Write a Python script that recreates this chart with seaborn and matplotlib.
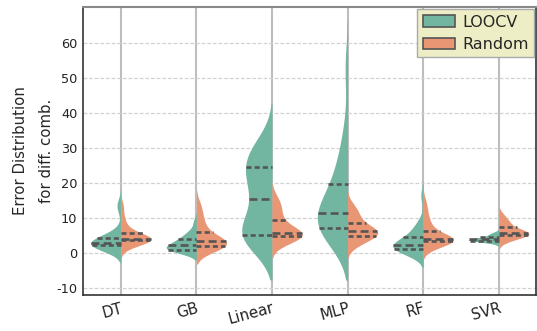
import numpy as np
import pandas as pd
import matplotlib
matplotlib.use("Agg")
import matplotlib.pyplot as plt
from matplotlib.patches import Patch
import seaborn as sns

# Models on the x axis and the two validation schemes (hue)
models = ["DT", "GB", "Linear", "MLP", "RF", "SVR"]
methods = ["LOOCV", "Random"]

# Error values per model / validation scheme
dt_loocv = [1.2, 1.5, 1.7, 2.0, 2.1, 2.3, 2.5, 2.6, 2.8, 2.85, 2.95, 3.2, 3.6, 4.0, 4.4, 4.8, 5.3, 6.3, 12.8, 14.3]
dt_random = [1.8, 2.6, 3.1, 3.4, 3.6, 3.75, 3.9, 4.0, 4.1, 4.15, 4.25, 4.4, 4.7, 5.1, 5.5, 6.3, 7.0, 8.5, 10.5, 13.5]
gb_loocv = [0.6, 0.7, 0.8, 0.9, 0.95, 1.05, 1.3, 1.7, 2.0, 2.3, 2.5, 2.8, 3.1, 3.5, 4.0, 4.4, 5.0, 5.8, 6.5, 9.0]
gb_random = [1.0, 1.2, 1.6, 1.9, 2.0, 2.3, 2.7, 3.0, 3.2, 3.4, 3.6, 3.9, 4.3, 5.0, 5.8, 7.4, 8.5, 10.0, 12.0, 14.0]
linear_loocv = [3.5, 4.0, 4.4, 4.8, 5.0, 5.3, 6.5, 8.5, 11.5, 14.5, 16.8, 19.0, 21.0, 23.0, 24.5, 25.0, 27.0, 28.5, 30.0, 32.0]
linear_random = [3.0, 3.5, 4.0, 4.4, 4.8, 5.0, 5.3, 5.5, 5.7, 5.8, 6.0, 6.5, 7.3, 8.2, 9.0, 10.6, 12.0, 13.0, 14.5, 16.0]
mlp_loocv = [5.5, 5.8, 6.2, 6.5, 6.8, 7.5, 8.5, 9.5, 10.5, 11.0, 12.2, 13.5, 15.0, 17.0, 19.0, 22.0, 25.0, 28.0, 35.0, 53.0]
mlp_random = [2.2, 3.0, 3.7, 4.3, 4.8, 4.95, 5.5, 5.8, 6.1, 6.3, 6.5, 6.8, 7.3, 7.8, 8.5, 9.7, 10.5, 11.5, 12.5, 14.0]
rf_loocv = [0.3, 0.6, 0.9, 1.1, 1.25, 1.3, 1.7, 2.0, 2.2, 2.35, 2.45, 2.8, 3.3, 3.9, 4.5, 5.7, 6.5, 7.5, 9.0, 16.5]
rf_random = [2.2, 2.6, 2.9, 3.3, 3.55, 3.65, 3.75, 3.85, 3.95, 3.98, 4.02, 4.3, 4.8, 5.4, 6.0, 7.6, 8.5, 10.0, 12.0, 14.5]
svr_loocv = [2.9, 3.2, 3.35, 3.5, 3.58, 3.65, 3.75, 3.85, 3.92, 3.98, 4.02, 4.1, 4.2, 4.35, 4.55, 4.75, 5.0, 5.3, 5.6, 6.0]
svr_random = [3.4, 4.0, 4.5, 4.8, 5.0, 5.2, 5.4, 5.6, 5.75, 5.85, 5.95, 6.2, 6.5, 6.9, 7.3, 8.1, 8.6, 9.2, 10.0, 11.2]

y_ticks = [-10, 0, 10, 20, 30, 40, 50, 60]

groups = {
    ("DT", "LOOCV"): dt_loocv, ("DT", "Random"): dt_random,
    ("GB", "LOOCV"): gb_loocv, ("GB", "Random"): gb_random,
    ("Linear", "LOOCV"): linear_loocv, ("Linear", "Random"): linear_random,
    ("MLP", "LOOCV"): mlp_loocv, ("MLP", "Random"): mlp_random,
    ("RF", "LOOCV"): rf_loocv, ("RF", "Random"): rf_random,
    ("SVR", "LOOCV"): svr_loocv, ("SVR", "Random"): svr_random,
}
rows = [(m, h, v) for (m, h), vals in groups.items() for v in vals]
df = pd.DataFrame(rows, columns=["model", "method", "error"])

sns.set_style("white")
plt.rcParams["font.family"] = ["DejaVu Sans"]

fig = plt.figure(figsize=(5.37, 3.31), dpi=100)
ax = fig.add_axes([0.1546, 0.1088, 0.8444, 0.871])

palette = [sns.desaturate(c, 0.75) for c in sns.color_palette("Set2", 2)]

sns.violinplot(
    data=df, x="model", y="error", hue="method",
    order=models, hue_order=methods, palette=palette, saturation=1,
    split=True, inner="quart", density_norm="width", cut=2,
    linewidth=0, inner_kws=dict(color="#555555", linewidth=1.9),
    legend=False, ax=ax,
)

# quartile lines come in (q1, median, q3) triples: short dashes, long for the median
for i, line in enumerate(ax.lines):
    if i % 3 == 1:
        line.set_dashes([3.0, 1.6])
    else:
        line.set_dashes([1.9, 1.2])

ax.set_axisbelow(True)
ax.yaxis.grid(True, linestyle=(0, (3, 1.5)), color="#d2d2d2", linewidth=0.9)
ax.xaxis.grid(True, linestyle="-", color="#bdbdbd", linewidth=1.5)

ax.set_xlim(-0.5, 5.5)
ax.set_ylim(-11.9, 70.5)
ax.set_yticks(y_ticks)
ax.set_yticklabels([str(t) for t in y_ticks], fontsize=9.3)
ax.set_xticks(range(len(models)))
ax.set_xticklabels(models, rotation=15, ha="right", va="top",
                   rotation_mode="anchor", fontsize=10.8)
ax.tick_params(axis="both", length=0, pad=4, colors="#222222")
ax.set_xlabel("")
ax.set_ylabel("Error Distribution\nfor diff. comb.", fontsize=10.7,
              linespacing=1.9, labelpad=2)

for side in ["left", "bottom", "right"]:
    ax.spines[side].set_color("#333333")
    ax.spines[side].set_linewidth(1.2)
ax.spines["top"].set_color("#888888")
ax.spines["top"].set_linewidth(1.5)

handles = [Patch(facecolor=c, edgecolor="#555555", linewidth=1.2, label=m)
           for c, m in zip(palette, methods)]
leg = ax.legend(handles=handles, loc="upper right", bbox_to_anchor=(1.0, 1.0),
                borderaxespad=0.15, fontsize=11.5, labelspacing=0.45,
                handlelength=2.0, handleheight=0.7, borderpad=0.35,
                handletextpad=0.45, frameon=True, fancybox=False)
leg.get_frame().set_facecolor("#eeeec6")
leg.get_frame().set_edgecolor("#aaaaaa")
leg.get_frame().set_alpha(1.0)

fig.savefig("out.png", dpi=100)
